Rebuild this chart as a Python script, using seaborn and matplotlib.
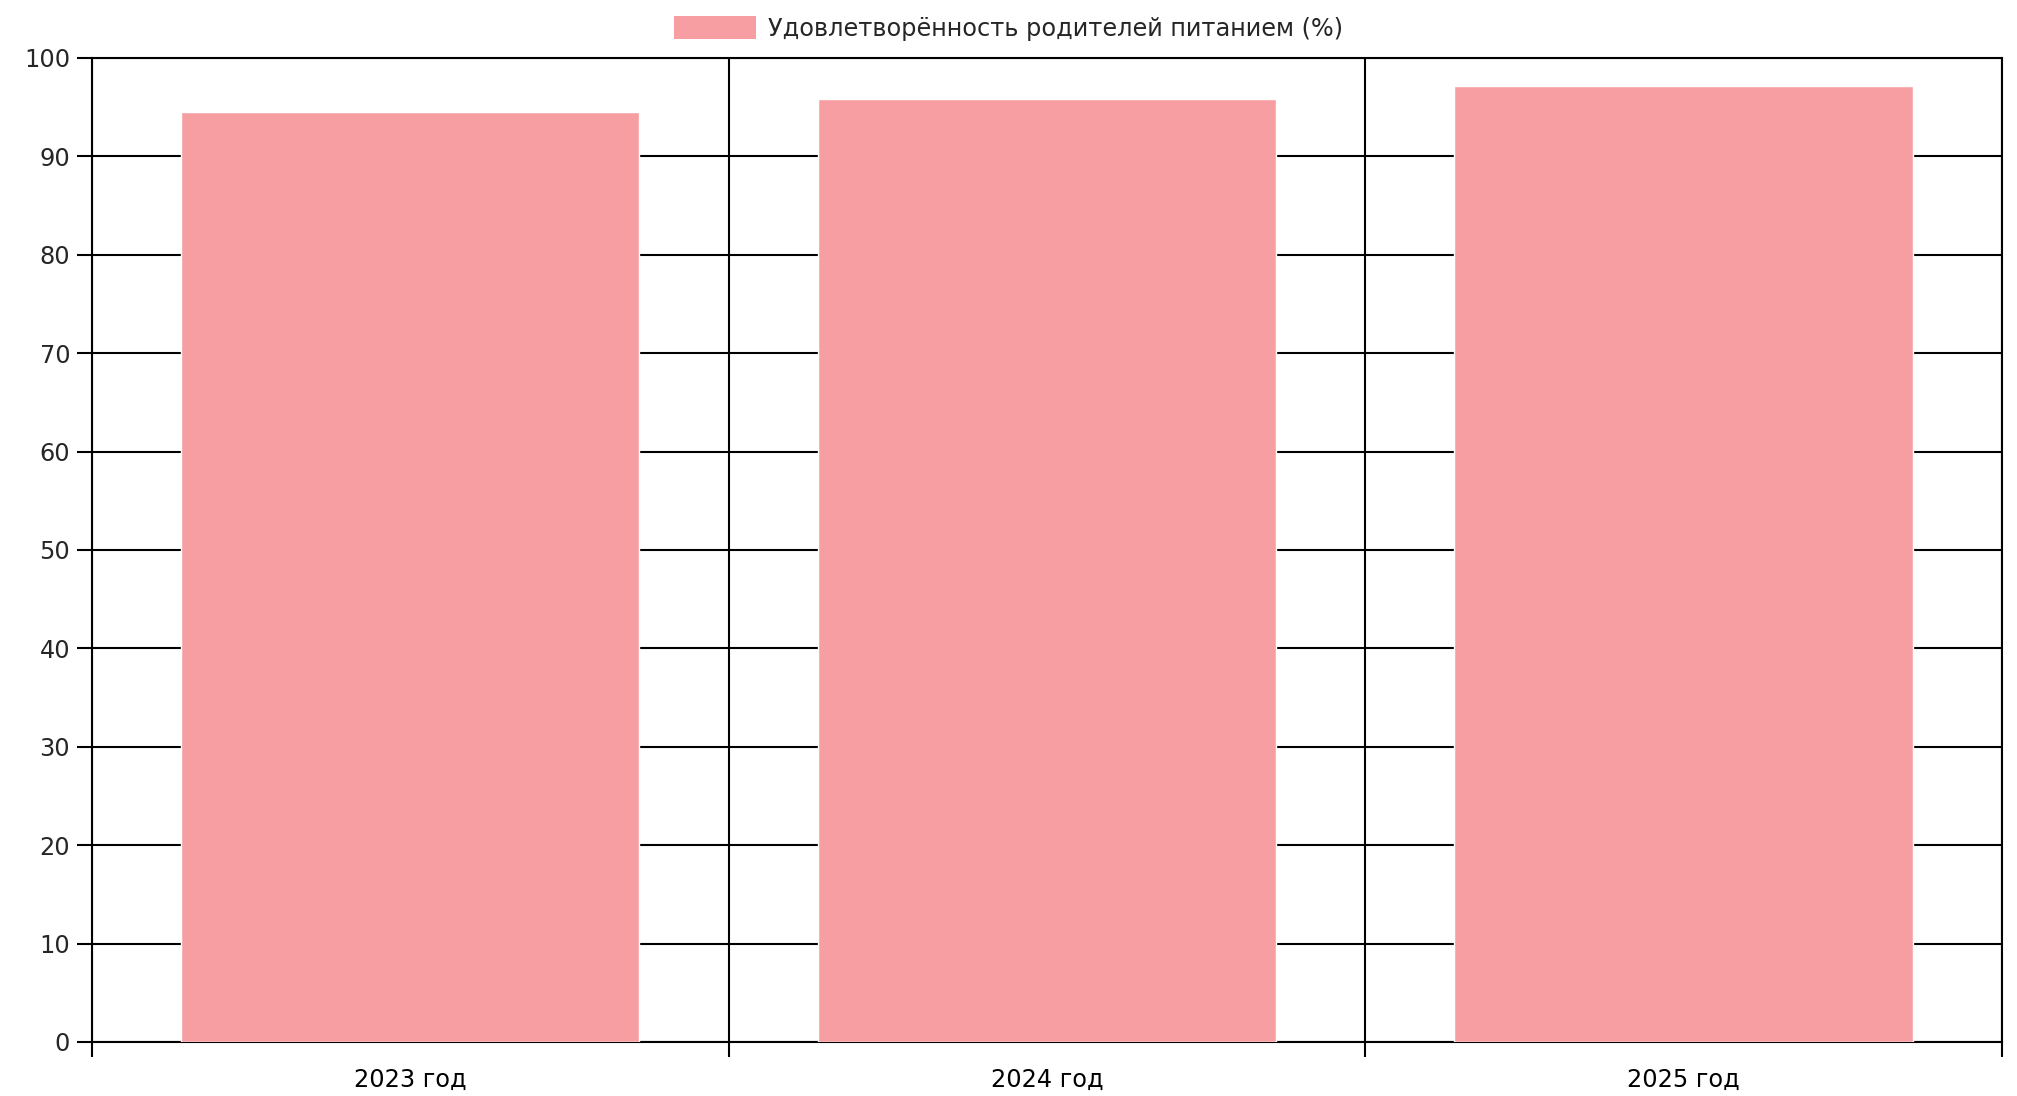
import pandas as pd
import matplotlib.pyplot as plt
import seaborn as sns
from matplotlib.ticker import FixedLocator
from matplotlib.patches import Patch

# Data
years = ['2023 год', '2024 год', '2025 год']
satisfaction = [94.5, 95.8, 97.2]
series_label = 'Удовлетворённость родителей питанием (%)'

data = pd.DataFrame({'year': years, 'value': satisfaction})

sns.set_style('white')
plt.rcParams['font.family'] = ['DejaVu Sans']

bar_color = '#f79ea2'

fig = plt.figure(figsize=(20.17, 10.96), dpi=100)
ax = fig.add_axes([0.0455, 0.0493, 0.9471, 0.8978])

sns.barplot(x='year', y='value', data=data, color=bar_color, width=0.72,
            saturation=1, ax=ax, zorder=3)

ax.set_xlim(-0.5, 2.5)
ax.set_ylim(0, 100)
ax.set_yticks(range(0, 101, 10))
ax.xaxis.set_minor_locator(FixedLocator([-0.5, 0.5, 1.5, 2.5]))

ax.grid(True, which='major', axis='y', color='black', linewidth=1.5, zorder=0)
ax.grid(True, which='minor', axis='x', color='black', linewidth=1.5, zorder=0)
ax.grid(False, which='major', axis='x')
ax.set_axisbelow(True)

ax.tick_params(axis='x', which='major', length=0, pad=19, labelsize=17.3, colors='black')
ax.tick_params(axis='x', which='minor', length=11, width=1.5, color='black', bottom=True)
ax.tick_params(axis='y', length=10.5, width=1.5, color='black', labelsize=17.3, pad=5, left=True)

for s in ax.spines.values():
    s.set_color('black')
    s.set_linewidth(1.5)

ax.set_xlabel('')
ax.set_ylabel('')

handle = Patch(facecolor=bar_color, edgecolor='none', label=series_label)
fig.legend(handles=[handle], loc='center', bbox_to_anchor=(0.5, 0.974), frameon=False,
           fontsize=17.3, handlelength=3.4, handleheight=1.1, handletextpad=0.5)

fig.savefig('out.png', dpi=100, facecolor='white')
